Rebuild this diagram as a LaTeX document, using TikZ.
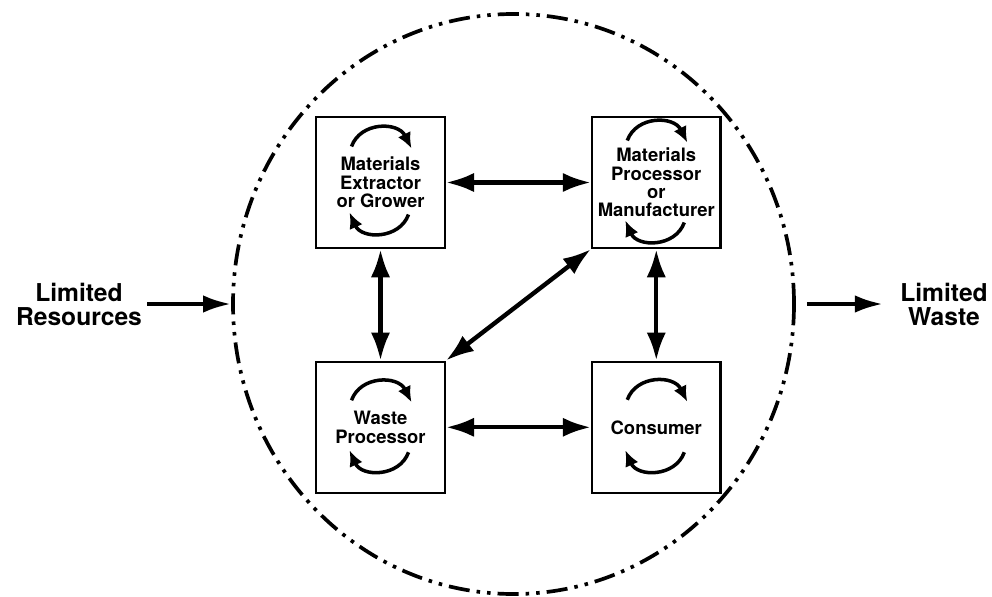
\documentclass[tikz,border=0pt]{standalone}
\usepackage{fontspec}
\setmainfont{TeX Gyre Heros}
\usepackage{tikz}
\usetikzlibrary{positioning}
\usetikzlibrary{shapes.geometric}
\usetikzlibrary{arrows.meta}
\tikzset{
    cycle diagram/.style={
            node distance=2.23cm and 2.9cm,
            stage/.style={draw,line width=1.3pt,inner sep=0pt,
                    minimum width=2.57cm,minimum height=2.62cm,align=center,
                    font=\bfseries\fontsize{10.5}{10.4}\selectfont},
            outside/.style={align=center,inner sep=0.1cm,
                    font=\bfseries\fontsize{14}{13.7}\selectfont},
            ring/.style={ellipse,draw,inner sep=0pt,line width=2.1pt,
                    dash pattern=on 12pt off 4pt on 2pt off 4pt on 2pt off 4pt},
            link/.style={{Latex[length=16pt,width=11pt]}-{Latex[length=16pt,width=11pt]},line width=2.5pt},
            flow/.style={-{Latex[length=16pt,width=10pt]},line width=2.4pt},
            turn/.style={-{Latex[length=9pt,width=8pt]},line width=2pt}
        }
    }

\begin{document}
\begin{tikzpicture}[cycle diagram]
    \useasboundingbox (0,0) rectangle (19.84,-11.92);
    \node[ring,minimum width=11.22cm,minimum height=11.6cm] (sys) at (10.27,-6.08) {};
    \node[stage] (ext) at (7.61,-3.65) {Materials\\Extractor\\or Grower};
    \node[stage] (man) [right=of ext] {Materials\\Processor\\or\\Manufacturer};
    \node[stage] (wpr) [below=of ext] {Waste\\Processor};
    \node[stage] (con) [below=of man] {Consumer};
    \node[outside] (res) at (1.58,-6.08) {Limited\\Resources};
    \node[outside] (wst) at (18.88,-6.08) {Limited\\Waste};
    \draw [link] (ext) -- (man);
    \draw [link] (ext) -- (wpr);
    \draw [link] (man) -- (con);
    \draw [link] (wpr) -- (con);
    \draw [link] (wpr.north east) -- (man.south west);
    \draw [flow] (res) -- (sys.west);
    \draw [flow,shorten <=0.22cm,shorten >=0.24cm] (sys.east) -- (wst);
    % little turning arrows in each box
    \foreach \nd/\hi/\lo in {ext/0.72/0.64, man/0.84/0.8, wpr/0.54/0.5, con/0.55/0.5}{
        \draw [turn] ([shift={(-0.58,\hi)}]\nd.center) .. controls ([shift={(-0.4,\hi+0.5)}]\nd.center) and ([shift={(0.35,\hi+0.5)}]\nd.center) .. ([shift={(0.62,\hi-0.04)}]\nd.center);
        \draw [turn] ([shift={(0.56,-\lo)}]\nd.center) .. controls ([shift={(0.38,-\lo-0.5)}]\nd.center) and ([shift={(-0.38,-\lo-0.5)}]\nd.center) .. ([shift={(-0.62,-\lo+0.04)}]\nd.center);
    }
\end{tikzpicture}
\end{document}
